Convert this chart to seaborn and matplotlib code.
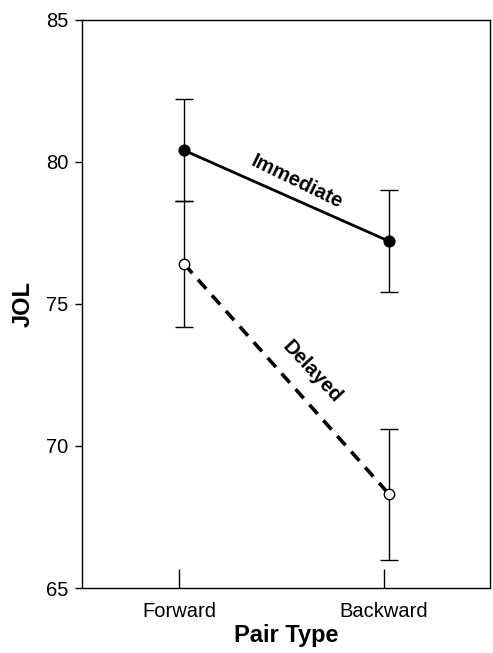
import numpy as np
import pandas as pd
import seaborn as sns
import matplotlib.pyplot as plt

# values
pair_types = ["Forward", "Backward"]
immediate_mean = [80.4, 77.2]
immediate_err = [1.8, 1.8]
delayed_mean = [76.4, 68.3]
delayed_err = [2.2, 2.3]

sns.set_style("white")
plt.rcParams['font.family'] = ['Liberation Sans', 'DejaVu Sans']
plt.rcParams['text.color'] = 'black'
plt.rcParams['axes.labelcolor'] = 'black'
plt.rcParams['xtick.color'] = 'black'
plt.rcParams['ytick.color'] = 'black'

x = np.arange(len(pair_types))
shift = 0.025  # points sit slightly right of the ticks in the original

df = pd.DataFrame({
    "pos": np.concatenate([x + shift, x + shift]),
    "JOL": immediate_mean + delayed_mean,
    "cond": ["Immediate"] * 2 + ["Delayed"] * 2,
})

fig = plt.figure(figsize=(4.93, 6.53), dpi=100)
ax = fig.add_axes([0.1663, 0.0995, 0.8276, 0.8705])

# error bars first so the markers sit on top
ax.errorbar(x + shift, immediate_mean, yerr=immediate_err, fmt="none",
            ecolor="black", elinewidth=1, capsize=6.5, capthick=1, zorder=1)
ax.errorbar(x + shift, delayed_mean, yerr=delayed_err, fmt="none",
            ecolor="black", elinewidth=1, capsize=6.5, capthick=1, zorder=1)

sns.lineplot(data=df[df.cond == "Immediate"], x="pos", y="JOL", ax=ax,
             color="black", linewidth=2, marker="o", markersize=8,
             markerfacecolor="black", markeredgecolor="black", zorder=3)
sns.lineplot(data=df[df.cond == "Delayed"], x="pos", y="JOL", ax=ax,
             color="black", linewidth=2.6, marker="o", markersize=7.5,
             markerfacecolor="white", markeredgecolor="black",
             markeredgewidth=1, zorder=3)
ax.lines[-1].set_linestyle((0, (3.4, 2.4)))

ax.text(0.575, 79.3, "Immediate", rotation=-26, fontsize=14.5,
        fontweight="bold", ha="center", va="center")
ax.text(0.65, 72.6, "Delayed", rotation=-47, fontsize=14.5,
        fontweight="bold", ha="center", va="center")

ax.set_xlim(-0.473, 1.517)
ax.set_ylim(65, 85)
ax.set_xticks(x)
ax.set_xticklabels(pair_types)
ax.set_yticks([65, 70, 75, 80, 85])
ax.tick_params(axis="x", direction="in", length=14, width=1, pad=10,
               labelsize=14.5, bottom=True)
ax.tick_params(axis="y", direction="out", length=5, width=1, pad=5,
               labelsize=14.5, left=True)

ax.set_xlabel("Pair Type", fontsize=17, fontweight="bold", labelpad=2)
ax.set_ylabel("JOL", fontsize=17, fontweight="bold", labelpad=8)

for s in ax.spines.values():
    s.set_visible(True)
    s.set_color("black")
    s.set_linewidth(1)

fig.savefig("out.png", dpi=100)
